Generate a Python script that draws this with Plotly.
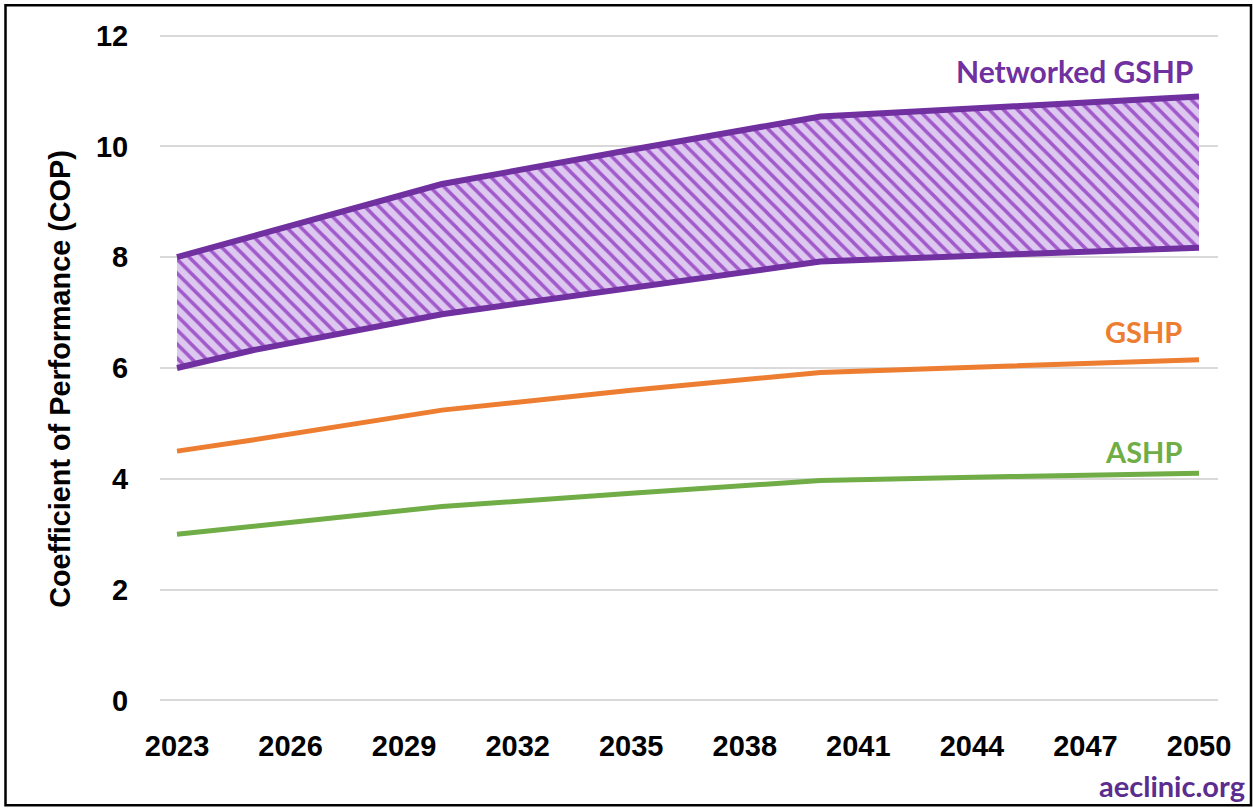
import plotly.graph_objects as go

# ---- data ----
years = [2023, 2025, 2030, 2035, 2040, 2045, 2050]
networked_high = [8.0, 8.38, 9.32, 9.94, 10.54, 10.72, 10.90]
networked_low = [6.0, 6.32, 6.97, 7.45, 7.92, 8.05, 8.17]
gshp = [4.5, 4.70, 5.24, 5.60, 5.92, 6.04, 6.15]
ashp = [3.0, 3.14, 3.50, 3.74, 3.97, 4.04, 4.10]

x_ticks = list(range(2023, 2051, 3))
y_ticks = [0, 2, 4, 6, 8, 10, 12]

PURPLE = "#7030A0"
ORANGE = "#ED7D31"
GREEN = "#70AD47"

W, H = 1253, 808
L, R = 160, 35
T, B = 30.2, 101.8

fig = go.Figure()

fig.add_trace(go.Scatter(
    x=years, y=networked_low, mode="lines",
    line=dict(color=PURPLE, width=6), hoverinfo="skip", showlegend=False))
fig.add_trace(go.Scatter(
    x=years, y=networked_high, mode="lines",
    line=dict(color=PURPLE, width=6), fill="tonexty",
    fillcolor="#DDC9F0",
    fillpattern=dict(shape="\\", bgcolor="#DDC9F0", fgcolor="#A25ACB",
                     size=10, solidity=0.35, fillmode="replace"),
    hoverinfo="skip", showlegend=False))
fig.add_trace(go.Scatter(
    x=years, y=gshp, mode="lines",
    line=dict(color=ORANGE, width=5), showlegend=False))
fig.add_trace(go.Scatter(
    x=years, y=ashp, mode="lines",
    line=dict(color=GREEN, width=5), showlegend=False))

tickfont = dict(family="Liberation Sans, Arial, sans-serif", size=29,
                color="black", weight="bold")
label_font = "Lato, Open Sans, sans-serif"

fig.update_layout(
    width=W, height=H,
    margin=dict(l=L, r=R, t=T, b=B, pad=0),
    paper_bgcolor="white", plot_bgcolor="white",
    xaxis=dict(range=[2022.551, 2050.502], tickvals=x_ticks,
               ticktext=[str(v) for v in x_ticks], tickfont=tickfont,
               showgrid=False, zeroline=False, showline=False,
               ticks="outside", ticklen=14, tickcolor="rgba(0,0,0,0)"),
    yaxis=dict(range=[-0.1, 12.1], tickvals=y_ticks, tickfont=tickfont,
               showgrid=True, gridcolor="#D9D9D9", gridwidth=2,
               zeroline=False, showline=False,
               ticks="outside", ticklen=25, tickcolor="rgba(0,0,0,0)"),
)

ph = H - T - B
pw = W - L - R

def px_to_paper_x(px):
    return (px - L) / pw

def px_to_paper_y(py):
    return (H - B - py) / ph

annotations = [
    dict(text="Coefficient of Performance (COP)", textangle=-90,
         xref="paper", yref="paper", x=px_to_paper_x(60), y=px_to_paper_y(379),
         xanchor="center", yanchor="middle", showarrow=False,
         font=dict(family="Liberation Sans, Arial, sans-serif", size=28.8,
                   color="black", weight="bold")),
    dict(text="Networked GSHP", xref="x", yref="y", x=2049.9, y=11.36,
         xanchor="right", yanchor="middle", showarrow=False,
         font=dict(family=label_font, size=30, color=PURPLE, weight="bold")),
    dict(text="GSHP", xref="x", yref="y", x=2049.6, y=6.66,
         xanchor="right", yanchor="middle", showarrow=False,
         font=dict(family=label_font, size=29, color=ORANGE, weight="bold")),
    dict(text="ASHP", xref="x", yref="y", x=2049.6, y=4.49,
         xanchor="right", yanchor="middle", showarrow=False,
         font=dict(family=label_font, size=29, color=GREEN, weight="bold")),
    dict(text="aeclinic.org", xref="paper", yref="paper",
         x=px_to_paper_x(1247), y=px_to_paper_y(786),
         xanchor="right", yanchor="middle", showarrow=False,
         font=dict(family=label_font, size=29, color="#5B2D8E", weight="bold")),
]
fig.update_layout(annotations=annotations)

fig.add_shape(type="rect", xref="paper", yref="paper",
              x0=px_to_paper_x(5.5), x1=px_to_paper_x(1251),
              y0=px_to_paper_y(805.5), y1=px_to_paper_y(5.5),
              line=dict(color="black", width=2.5), fillcolor="rgba(0,0,0,0)",
              layer="above")

fig.write_html("out.html")
